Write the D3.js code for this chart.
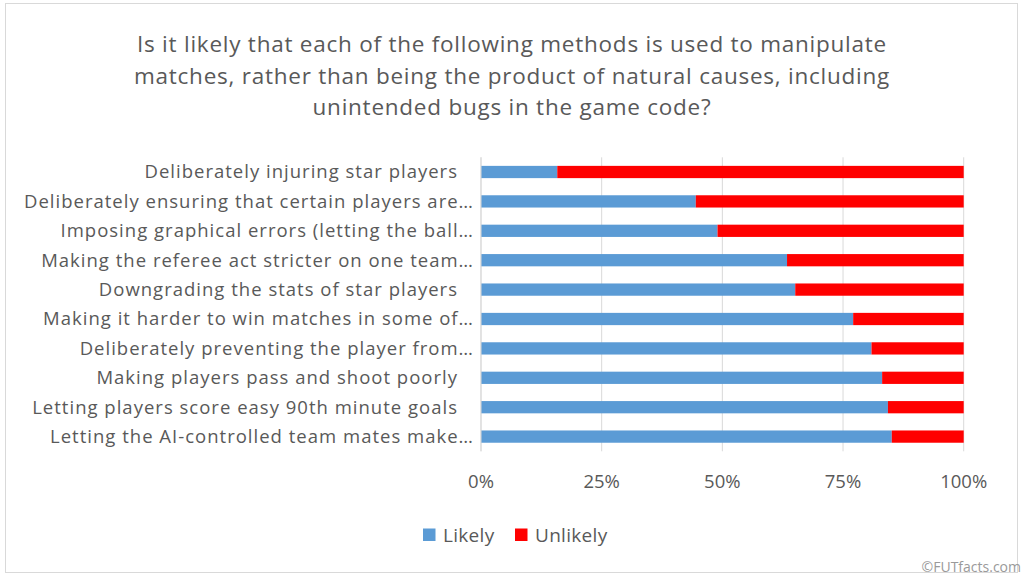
<!DOCTYPE html>
<html><head><meta charset="utf-8">
<script src="https://cdn.jsdelivr.net/npm/d3@7"></script>
<style>
html,body{margin:0;padding:0;background:#fff;}
svg text{font-family:"Open Sans", Lato, sans-serif;}
</style></head>
<body><svg id="c" width="1024" height="578"></svg>
<script>
const categories = [
  "Deliberately injuring star players",
  "Deliberately ensuring that certain players are…",
  "Imposing graphical errors (letting the ball…",
  "Making the referee act stricter on one team…",
  "Downgrading the stats of star players",
  "Making it harder to win matches in some of…",
  "Deliberately preventing the player from…",
  "Making players pass and shoot poorly",
  "Letting players score easy 90th minute goals",
  "Letting the AI-controlled team mates make…"
];
const likely = [15.8, 44.5, 49.0, 63.4, 65.1, 77.1, 80.9, 83.1, 84.3, 85.1];
const unlikely = likely.map(v => 100 - v);
const tickValues = [0, 25, 50, 75, 100];
const tickLabels = ["0%", "25%", "50%", "75%", "100%"];
const seriesNames = ["Likely", "Unlikely"];
const seriesColors = ["#5b9bd5", "#ff0000"];
const titleLines = [
  "Is it likely that each of the following methods is used to manipulate",
  "matches, rather than being the product of natural causes, including",
  "unintended bugs in the game code?"
];

const svg = d3.select("#c");
svg.append("rect").attr("x",5.5).attr("y",3.5).attr("width",1012).attr("height",569)
  .attr("fill","#fff").attr("stroke","#d9d9d9");

function fitSpacing(sel, target){
  const node = sel.node();
  const w = node.getComputedTextLength();
  const n = node.textContent.length;
  return (target - w) / n;
}

const title = svg.append("g").selectAll("text").data(titleLines).join("text")
  .attr("x",512).attr("y",(d,i)=>52 + i*31.5)
  .attr("text-anchor","middle").attr("fill","#595959")
  .attr("font-size",22.5).text(d=>d);
const tls = fitSpacing(title.filter((d,i)=>i===0), 750);
title.attr("letter-spacing", tls);

const x = d3.scaleLinear().domain([0,100]).range([481,963.7]);
const y = d3.scaleBand().domain(categories).range([157.3,451.3]).paddingInner(0.583).paddingOuter(0.2915);

svg.append("g").selectAll("line").data(tickValues).join("line")
  .attr("x1",d=>x(d)).attr("x2",d=>x(d)).attr("y1",157.3).attr("y2",451.3)
  .attr("stroke","#d9d9d9").attr("stroke-width",1);

const rows = categories.map((c,i)=>({c, l: likely[i], u: unlikely[i]}));
const stack = d3.stack().keys(["l","u"])(rows);
svg.append("g").selectAll("g").data(stack).join("g")
  .attr("fill",(d,i)=>seriesColors[i])
  .selectAll("rect").data(d=>d).join("rect")
  .attr("x",d=>x(d[0])).attr("width",d=>x(d[1])-x(d[0]))
  .attr("y",d=>y(d.data.c)).attr("height",y.bandwidth());

svg.append("line").attr("x1",481).attr("x2",481).attr("y1",157.3).attr("y2",451.3)
  .attr("stroke","#d9d9d9");

const labels = svg.append("g").selectAll("text").data(categories).join("text")
  .attr("x",d=> d.endsWith("…") ? 474 : 458)
  .attr("y",d=>y(d)+y.bandwidth()/2)
  .attr("dy","0.35em").attr("text-anchor","end")
  .attr("fill","#595959").attr("font-size",18.5).text(d=>d);
const lls = fitSpacing(labels.filter((d,i)=>i===1), 450);
labels.attr("letter-spacing", lls);

svg.append("g").selectAll("text").data(tickValues).join("text")
  .attr("x",d=>x(d)).attr("y",488).attr("text-anchor","middle")
  .attr("fill","#595959").attr("font-size",18.5).text((d,i)=>tickLabels[i]);

const lg = svg.append("g");
const legX = [423, 515];
seriesNames.forEach((n,i)=>{
  lg.append("rect").attr("x",legX[i]).attr("y",528.5).attr("width",12.5).attr("height",12.5).attr("fill",seriesColors[i]);
  lg.append("text").attr("x",legX[i]+20).attr("y",542).attr("fill","#595959").attr("font-size",19)
    .attr("letter-spacing", 0.3).text(n);
});

svg.append("text").attr("x",1021).attr("y",572).attr("text-anchor","end")
  .attr("fill","#9a9a9a").attr("font-size",14).attr("font-family","'DejaVu Sans', sans-serif").text("©FUTfacts.com");
</script></body></html>
